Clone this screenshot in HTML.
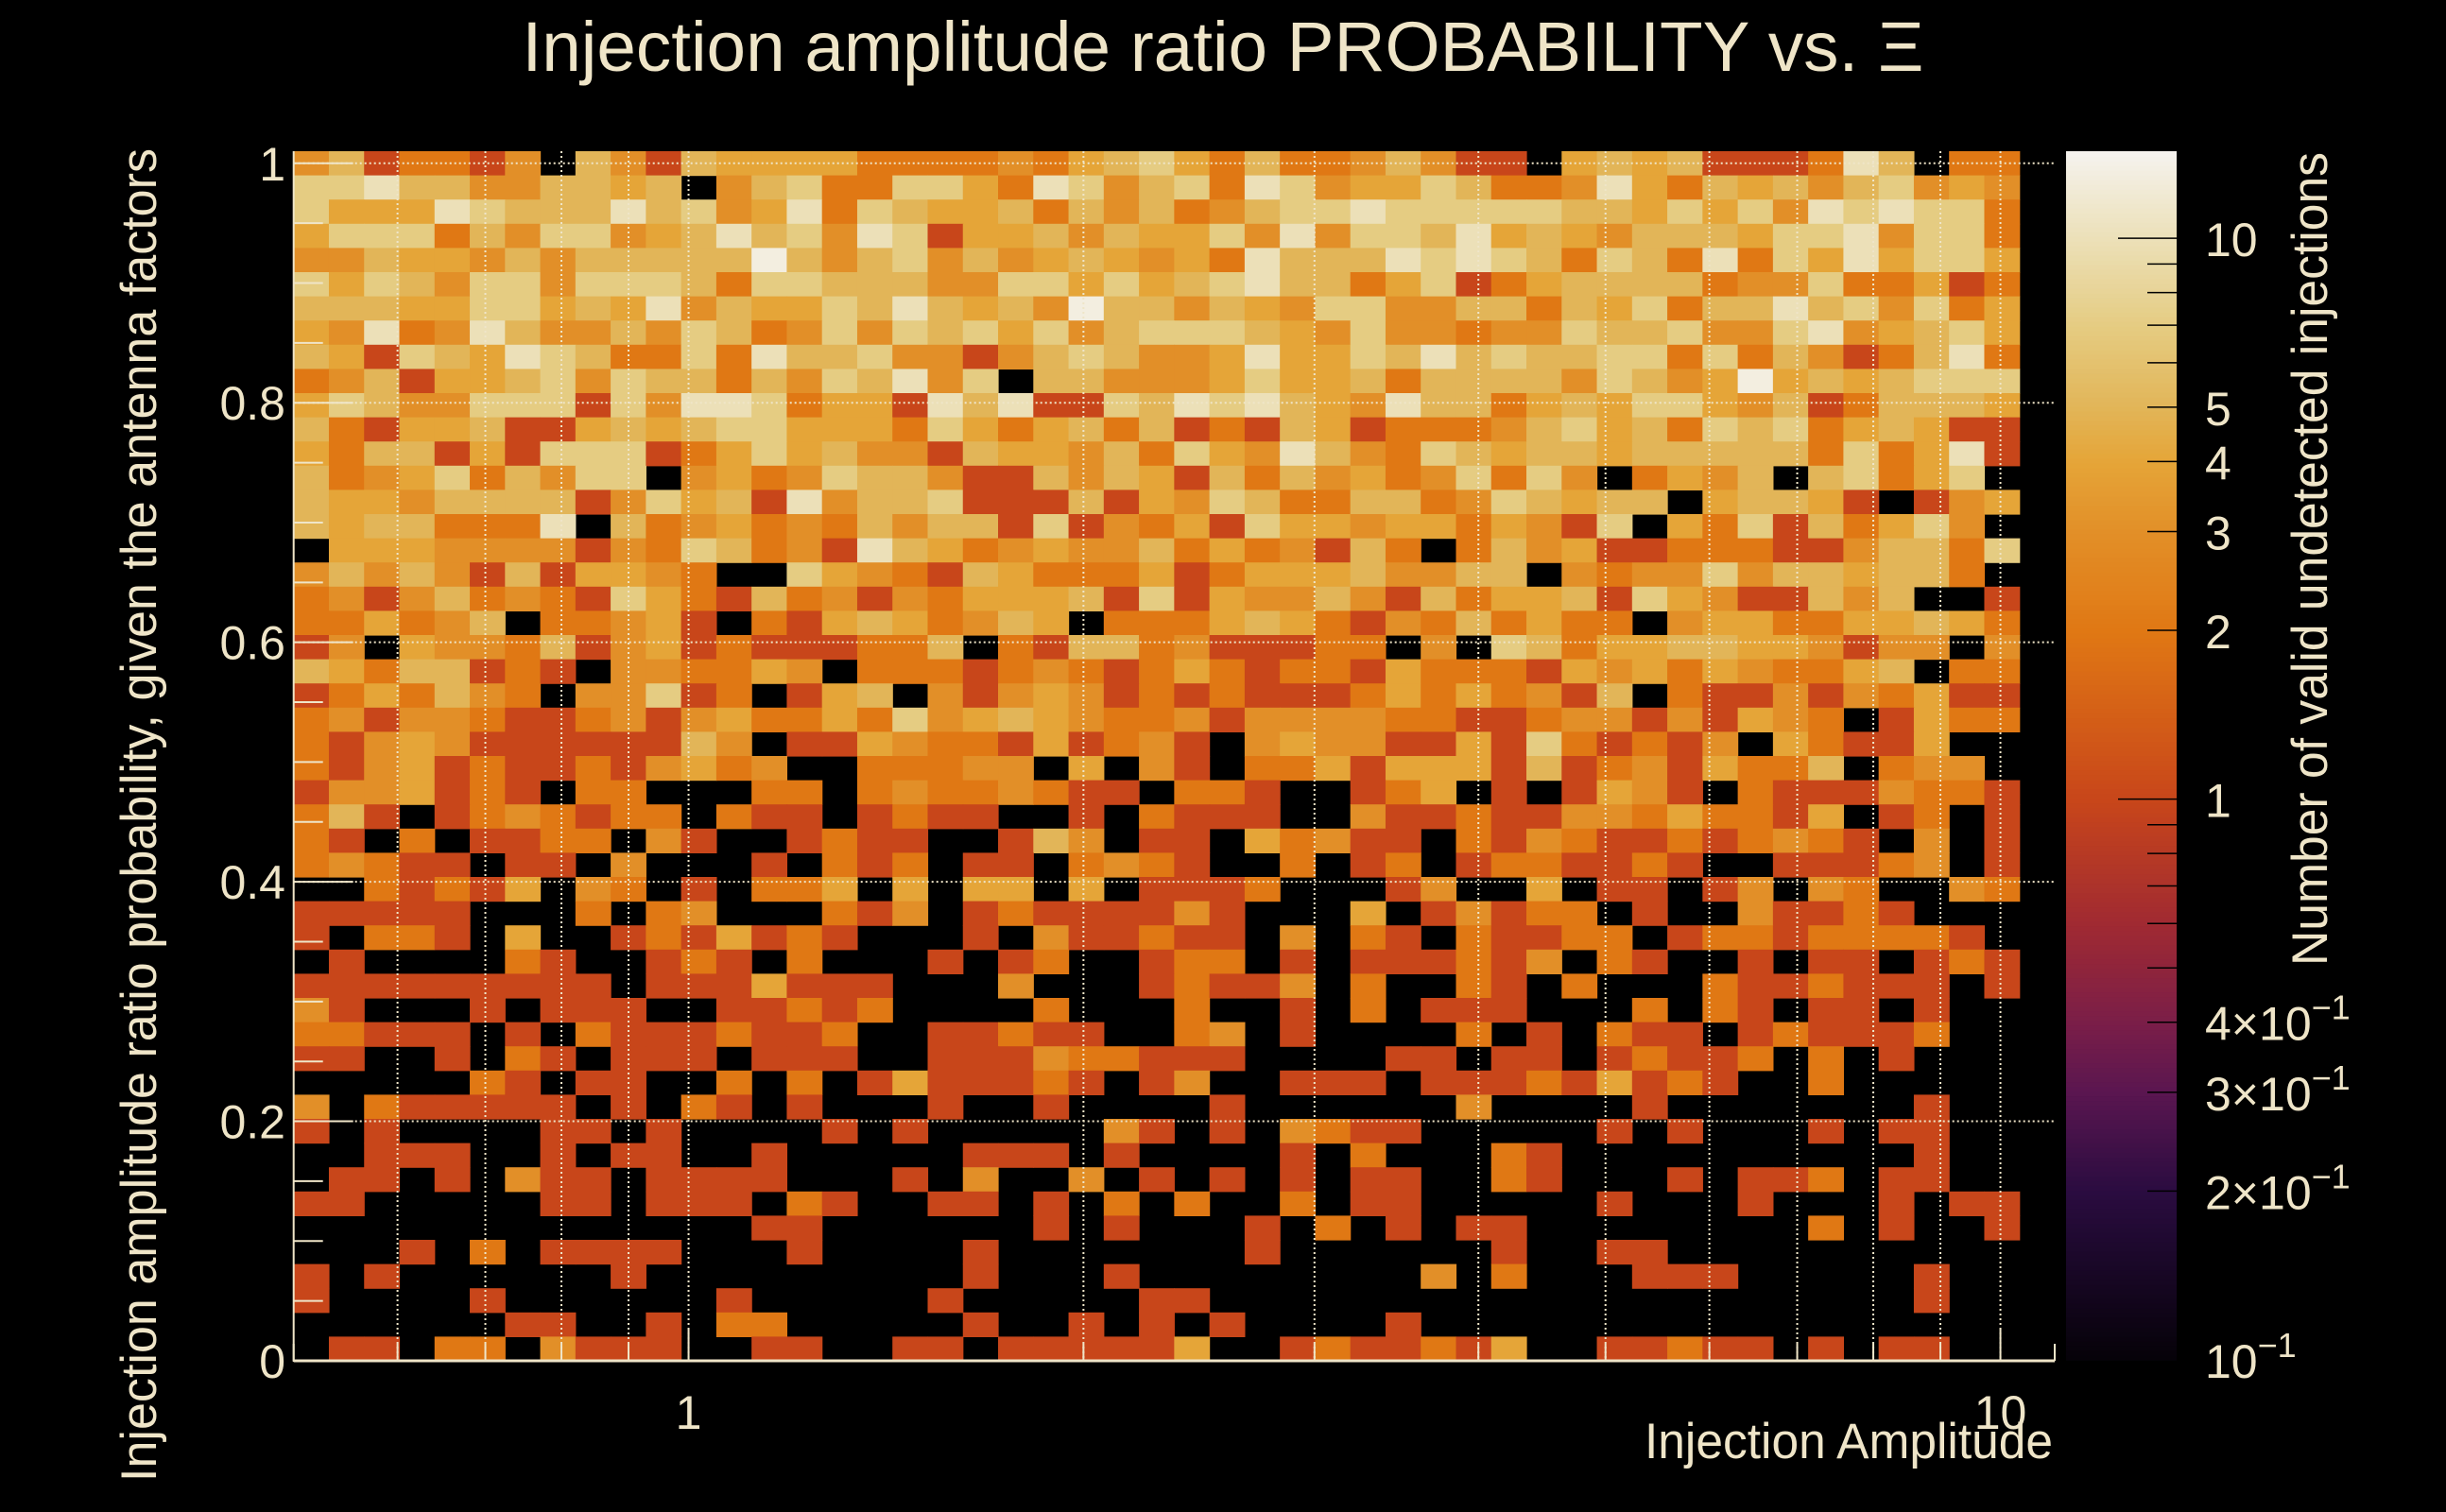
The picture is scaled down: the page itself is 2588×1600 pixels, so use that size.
<!DOCTYPE html>
<html><head><meta charset="utf-8">
<style>
html,body{margin:0;padding:0;background:#000;}
svg{display:block;}
text{font-family:"Liberation Sans",sans-serif;fill:#efe5c8;}
</style></head>
<body>
<svg id="chart" xmlns="http://www.w3.org/2000/svg" width="2588" height="1600" viewBox="0 0 2588 1600">
<rect x="0" y="0" width="2588" height="1600" fill="#000"/>
<g id="cells"></g>
<g id="grid"></g>
<g id="axes"></g>
<g id="cbar"></g>
<text x="1294" y="75" font-size="74" text-anchor="middle" textLength="1483" lengthAdjust="spacingAndGlyphs">Injection amplitude ratio PROBABILITY vs.  Ξ</text>
<text x="2172" y="1543" font-size="53" text-anchor="end" textLength="432" lengthAdjust="spacingAndGlyphs">Injection Amplitude</text>
<text transform="translate(165,157) rotate(-90)" font-size="53" text-anchor="end" textLength="1411" lengthAdjust="spacingAndGlyphs">Injection amplitude ratio probability, given the antenna factors</text>
<text transform="translate(2462,161) rotate(-90)" font-size="53" text-anchor="end" textLength="861" lengthAdjust="spacingAndGlyphs">Number of valid undetected injections</text>
</svg>
<script>
const xRange = [0.5, 11];
const yRange = [0, 1.0101];
const zRange = [0.1, 14.3];
const nXBins = 50;
const nYBins = 50;
const levelCounts = [0, 1, 2, 3, 4, 5, 7, 10, 13];
const rowLevels = [
"3512213053154444222232456425223531104545111275022",
"6675533554503562266427635627634465223742545356343",
"6444765557563472654452535235667666665546463767662",
"4666253663457563761445354463736657454355546673662",
"3354435355555853563534543427555767652652726474664",
"6465366366652665553366464567552461245555233622412",
"5554466454735446575453855354366335525462557563624",
"4372375335365236365646356665436332336556336734564",
"5416547652262755633135653347446575655662625312572",
"2351445636552536573605533346445255553653484545666",
"4653366616377624417571165767543755245466435125554",
"5214451145456644426424525121541222356452656245411",
"4255141666124645331544352643753265455455555262471",
"5234625366034236553115354152534236263024350562460",
"5443555513645173556111514365225523654550455410134",
"5455222705234232535516132416443442431604261524630",
"0444333313265231754234335242315202534112221135526",
"3535315144320064321542224124445335503233635545520",
"2313523216421523132444516143353152445164311535001",
"2242350223410214542354022245421325242203442244542",
"1304332513412111225021552311122030652445544313303",
"5425512103322430222123212421221422214342432245022",
"1242532033612014503134312121112424231502113132411",
"2313321123134224263454322313333221123313143201422",
"2134311111153011432214123103433114162121304211400",
"2134121121342300222330403102241444151231422502330",
"1334121022000220232232110221001240101431021113221",
"2510123212202110121100102111003112113324221401201",
"2102011220310012110015301104231102132112123210301",
"2321101103000102120110232100201201221121001112301",
"0021214032010224040440401112000130040110130320032",
"1111100020230002130121111310004013122010031121000",
"1022104001214121000103112110302102112201221222210",
"0100002100121020001012001220101112130210010110121",
"1111111110111411100030001211302002102000211211101",
"3100010111001121200002000200102011100020210110100",
"2211101021112112001121100230100002010211012111200",
"1100102101110111001113221110000110110121120201000",
"0000021011002020141112101300111011121412100200000",
"3021111101021010001001000010000003000010000000100",
"1010000110100001010000031010321100000101000101100",
"0011100101100100000111010000102000210000000000100",
"0110103110111100010300301010101100210001011201100",
"1100000110111021001101020200201100000100010001011",
"0000000000000110000001010001020101100000000201001",
"0001020111100010000100000001000000100110000000000",
"1010000001000000000100010000000030200011100000100",
"1000010000001000001000001100000000000000000000100",
"0000001100102200000100101010000100000000000000000",
"0110220311100110011011111400121121400112110101100"
];
const xTickLabels = ["1", "10"];
const xTickValues = [1, 10];
const xMinorValues = [0.5,0.6,0.7,0.8,0.9,2,3,4,5,6,7,8,9,11];
const yTickValues = [0, 0.2, 0.4, 0.6, 0.8, 1];
const yTickLabels = ["0", "0.2", "0.4", "0.6", "0.8", "1"];
const zMajorValues = [1, 10];
const zMinorValues = [0.2,0.3,0.4,0.5,0.6,0.7,0.8,0.9,2,3,4,5,6,7,8,9];
const zLabelValues = [10, 5, 4, 3, 2, 1, 0.4, 0.3, 0.2, 0.1];
const zLabelMant = ["10", "5", "4", "3", "2", "1", "4×10", "3×10", "2×10", "10"];
const zLabelExp = ["", "", "", "", "", "", "−1", "−1", "−1", "−1"];
const cmapValues = [0.1, 0.2, 0.3, 0.4, 0.6, 1, 2, 3, 4, 5, 7, 10, 14.3];
const cmapColors = ["#050208","#2a0c40","#5a1650","#7a1e48","#a02a32","#c8461a","#e07814","#e28f28","#e5a538","#e2b558","#e5cc82","#ece0b8","#f5f3ee"];

const PX0 = 310.7, PX1 = 2174, PY0 = 1440, PY1 = 160;
const CBX0 = 2186, CBX1 = 2303, CBY0 = 1439, CBY1 = 160;
const NS = "http://www.w3.org/2000/svg";
const L = Math.log10;
function xScale(v){ return PX0 + (L(v)-L(xRange[0]))/(L(xRange[1])-L(xRange[0]))*(PX1-PX0); }
function yScale(v){ return PY0 + (v-yRange[0])/(yRange[1]-yRange[0])*(PY1-PY0); }
function zScale(v){ return CBY0 + (L(v)-L(zRange[0]))/(L(zRange[1])-L(zRange[0]))*(CBY1-CBY0); }
function hex(c){ return [1,3,5].map(i=>parseInt(c.substr(i,2),16)); }
function color(v){
  v = Math.max(cmapValues[0], Math.min(cmapValues[cmapValues.length-1], v));
  for (let i=0;i<cmapValues.length-1;i++){
    if (v<=cmapValues[i+1]){
      const t=(L(v)-L(cmapValues[i]))/(L(cmapValues[i+1])-L(cmapValues[i]));
      const a=hex(cmapColors[i]), b=hex(cmapColors[i+1]);
      return "rgb("+a.map((x,k)=>Math.round(x+(b[k]-x)*t)).join(",")+")";
    }
  }
  return cmapColors[cmapColors.length-1];
}
function mk(tag, attrs, parent){
  const el=document.createElementNS(NS,tag);
  for (const k in attrs) el.setAttribute(k, attrs[k]);
  parent.appendChild(el); return el;
}
const cream="#efe5c8";

const cells=document.getElementById("cells");
const xEdge = i => xRange[0]*Math.pow(xRange[1]/xRange[0], i/nXBins);
const yEdge = j => yRange[0] + (yRange[1]-yRange[0])*j/nYBins;
rowLevels.forEach((row, r) => {
  const j = nYBins-1-r;
  for (let i=0;i<nXBins;i++){
    const lvl = i<row.length ? +row[i] : 0;
    const c = levelCounts[lvl];
    if (!c) continue;
    const x0=xScale(xEdge(i)), x1=xScale(xEdge(i+1));
    const y0=yScale(yEdge(j+1)), y1=yScale(yEdge(j));
    const el=mk("rect",{x:x0.toFixed(2),y:y0.toFixed(2),width:(x1-x0+0.6).toFixed(2),height:(y1-y0+0.6).toFixed(2),fill:color(c)},cells);
    
    
  }
});

const grid=document.getElementById("grid");
xMinorValues.concat(xTickValues).forEach(v=>{
  if (v<=xRange[0]||v>=xRange[1]) return;
  const x=xScale(v);
  const el=mk("line",{x1:x,x2:x,y1:PY1,y2:PY0,stroke:cream,"stroke-width":2,"stroke-dasharray":"2 3"},grid);
  
  
});
yTickValues.forEach(v=>{
  if (v===0) return;
  const y=yScale(v);
  const el=mk("line",{x1:PX0,x2:PX1,y1:y,y2:y,stroke:cream,"stroke-width":2,"stroke-dasharray":"2 3"},grid);
  
  
});

const axes=document.getElementById("axes");
let e;
e=mk("line",{x1:PX0,x2:PX0,y1:PY1,y2:PY0+1,stroke:cream,"stroke-width":2},axes);


e=mk("line",{x1:PX0,x2:PX1,y1:PY0,y2:PY0,stroke:cream,"stroke-width":3},axes);


for (let k=0;k<=20;k++){
  const y=yScale(k*0.05), major=(k%4===0);
  e=mk("line",{x1:PX0,x2:PX0+(major?63:31),y1:y,y2:y,stroke:cream,"stroke-width":2},axes);
  
  
}
yTickValues.forEach((v,i)=>{
  e=mk("text",{x:302,y:yScale(v)+18,"font-size":50,"text-anchor":"end"},axes);
  e.textContent=yTickLabels[i];
  
  
});
xMinorValues.forEach(v=>{
  const x=xScale(v);
  e=mk("line",{x1:x,x2:x,y1:PY0,y2:PY0-18,stroke:cream,"stroke-width":2},axes);
  
  
});
xTickValues.forEach((v,i)=>{
  const x=xScale(v);
  e=mk("line",{x1:x,x2:x,y1:PY0,y2:PY0-34,stroke:cream,"stroke-width":2},axes);
  
  
  e=mk("text",{x:x,y:1512,"font-size":50,"text-anchor":"middle"},axes);
  e.textContent=xTickLabels[i];
  
  
});

const cb=document.getElementById("cbar");
const N=256;
for (let k=0;k<N;k++){
  const v0=zRange[0]*Math.pow(zRange[1]/zRange[0],k/N), v1=zRange[0]*Math.pow(zRange[1]/zRange[0],(k+1)/N);
  const ya=zScale(v1), yb=zScale(v0);
  e=mk("rect",{x:CBX0,y:ya.toFixed(2),width:CBX1-CBX0,height:(yb-ya+0.8).toFixed(2),fill:color(Math.sqrt(v0*v1))},cb);
  
  
}
zMajorValues.forEach(v=>{
  const y=zScale(v);
  e=mk("line",{x1:CBX1,x2:CBX1-62,y1:y,y2:y,stroke:"#000","stroke-width":1.5},cb);
  
  
});
zMinorValues.forEach(v=>{
  const y=zScale(v);
  e=mk("line",{x1:CBX1,x2:CBX1-31,y1:y,y2:y,stroke:"#000","stroke-width":1.5},cb);
  
  
});
zLabelValues.forEach((v,i)=>{
  const y=zScale(v);
  e=mk("text",{x:2333,y:y+19,"font-size":50},cb);
  
  
  const t1=mk("tspan",{},e); t1.textContent=zLabelMant[i];
  if (zLabelExp[i]){
    const t2=mk("tspan",{dy:-22,"font-size":36},e); t2.textContent=zLabelExp[i];
  }
});
</script>
</body></html>
